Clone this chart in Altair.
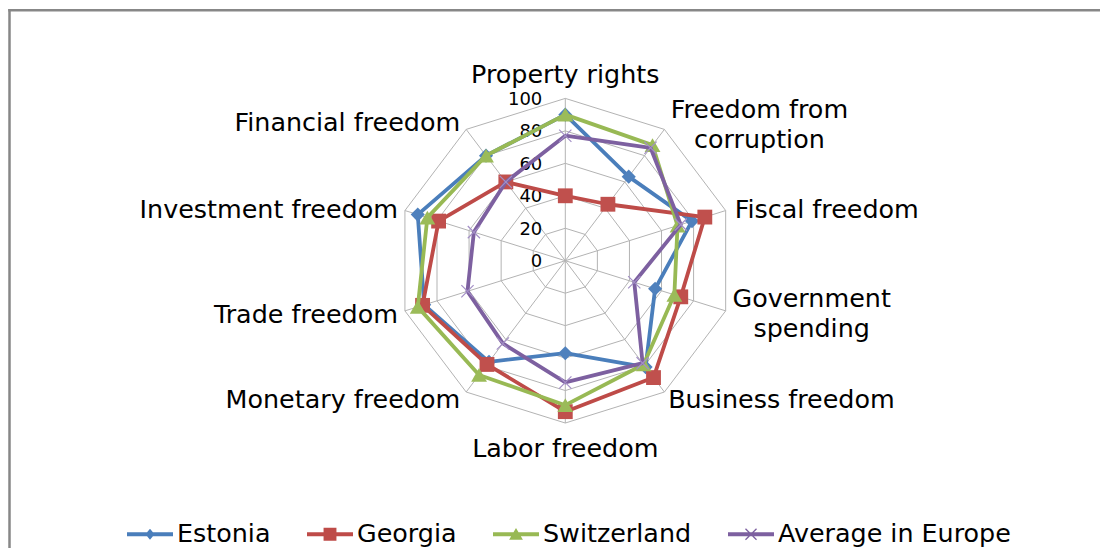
import altair as alt
import pandas as pd

# ---------------- data ----------------
categories = ["Property rights", "Freedom from corruption", "Fiscal freedom",
              "Government spending", "Business freedom", "Labor freedom",
              "Monetary freedom", "Trade freedom", "Investment freedom",
              "Financial freedom"]
category_labels = ["Property rights", "Freedom from\ncorruption", "Fiscal freedom",
                   "Government\nspending", "Business freedom", "Labor freedom",
                   "Monetary freedom", "Trade freedom", "Investment freedom",
                   "Financial freedom"]
estonia = [90, 64, 79, 56, 81, 57, 77, 88, 92, 80]
georgia = [40, 43, 87, 72, 89, 93, 79, 89, 79, 60]
switzerland = [90, 88, 70, 68, 79, 89, 87, 92, 86, 80]
europe = [77, 86, 72, 43, 78, 75, 63, 61, 57, 60]
series_names = ["Estonia", "Georgia", "Switzerland", "Average in Europe"]
tick_values = [0, 20, 40, 60, 80, 100]
ring_values = [20, 40, 60, 80, 100]

# ---------------- styles ----------------
line_colors = ["#4A7EBB", "#BE4B48", "#98B954", "#7D60A0"]
marker_colors = ["#4F81BD", "#C0504D", "#9BBB59", "#A38FC6"]
FONT = "DejaVu Sans"
W, H = 1092, 540
XDOM = [-330.5, 317.1]
YDOM = [-177.0, 155.7]
N = len(categories)

rows = []
for name, vals in zip(series_names, [estonia, georgia, switzerland, europe]):
    for i, v in enumerate(vals):
        rows.append({"series": name, "idx": i, "category": categories[i], "value": v})
df = pd.DataFrame(rows)

grid_df = pd.DataFrame([{"level": lv, "idx": i, "value": lv}
                        for lv in ring_values for i in range(N)])
spoke_df = pd.DataFrame([{"idx": i, "value": max(ring_values)} for i in range(N)])
tick_df = pd.DataFrame({"value": tick_values, "idx": [0] * len(tick_values)})
label_df = pd.DataFrame({"idx": list(range(N)), "label": category_labels,
                         "value": [max(ring_values)] * N})

xs = alt.Scale(domain=XDOM, nice=False, zero=False)
ys = alt.Scale(domain=YDOM, nice=False, zero=False)
calc = dict(x="datum.value*sin(2*PI*datum.idx/%d)" % N,
            y="datum.value*cos(2*PI*datum.idx/%d)" % N,
            x0="0", y0="0")


def X(f="x"):
    return alt.X(f + ":Q", scale=xs, axis=None)


def Y(f="y"):
    return alt.Y(f + ":Q", scale=ys, axis=None)


layers = []

# frame (left and top edges)
layers.append(alt.Chart(pd.DataFrame({"a": [0]})).mark_rule(color="#878787", strokeWidth=2.5)
              .encode(x=alt.value(1.5), y=alt.value(1.0), y2=alt.value(H)))
layers.append(alt.Chart(pd.DataFrame({"a": [0]})).mark_rule(color="#878787", strokeWidth=2.5, strokeCap="butt")
              .encode(x=alt.value(0.3), x2=alt.value(W), y=alt.value(2.3)))

# grid rings
layers.append(alt.Chart(grid_df).transform_calculate(**calc)
              .mark_line(interpolate="linear-closed", color="#B3B3B3", strokeWidth=1)
              .encode(x=X(), y=Y(), detail="level:N", order="idx:Q"))
# spokes
layers.append(alt.Chart(spoke_df).transform_calculate(**calc)
              .mark_rule(color="#B3B3B3", strokeWidth=1)
              .encode(x=X("x0"), y=Y("y0"), x2="x:Q", y2="y:Q"))
# tick labels
layers.append(alt.Chart(tick_df).transform_calculate(**calc)
              .mark_text(align="right", baseline="middle", dx=-23, dy=1.5,
                         font=FONT, fontSize=18, color="#000000")
              .encode(x=X(), y=Y(), text="value:Q"))

# category labels
label_style = [
    dict(align="center", dx=0, dy=-23),
    dict(align="center", dx=95, dy=-19),
    dict(align="left", dx=9, dy=-1),
    dict(align="center", dx=86, dy=-11.5),
    dict(align="center", dx=117, dy=8),
    dict(align="center", dx=0, dy=26),
    dict(align="right", dx=-6, dy=8),
    dict(align="right", dx=-7, dy=4),
    dict(align="right", dx=-7, dy=-0.5),
    dict(align="right", dx=-6, dy=-6),
]
for i, st in enumerate(label_style):
    layers.append(alt.Chart(label_df).transform_filter("datum.idx == %d" % i)
                  .transform_calculate(**calc)
                  .mark_text(baseline="middle", font=FONT, fontSize=25.4, color="#000000",
                             lineBreak="\n", lineHeight=30, **st)
                  .encode(x=X(), y=Y(), text="label:N"))

# series
marker_shape = ["diamond", "square", "triangle-up", "M-1,-1L1,1M-1,1L1,-1"]
marker_size = [200, 220, 250, 150]
for k, name in enumerate(series_names):
    base = alt.Chart(df).transform_filter(alt.datum.series == name).transform_calculate(**calc)
    layers.append(base.mark_line(interpolate="linear-closed", color=line_colors[k],
                                 strokeWidth=3.8, strokeJoin="round")
                  .encode(x=X(), y=Y(), order="idx:Q"))
    if k < 3:
        layers.append(base.mark_point(shape=marker_shape[k], filled=True, size=marker_size[k],
                                      color=marker_colors[k], opacity=1)
                      .encode(x=X(), y=Y()))
    else:
        layers.append(base.mark_point(shape=marker_shape[k], filled=False, size=marker_size[k],
                                      color=marker_colors[k], strokeWidth=1.2, opacity=1)
                      .encode(x=X(), y=Y()))

# legend (custom symbols: line with marker)
LINE = "M-1,-0.085L1,-0.085L1,0.085L-1,0.085Z"
legend_paths = [
    LINE + " M0,-0.24L0.2,0L0,0.24L-0.2,0Z",
    LINE + " M-0.28,-0.28L0.28,-0.28L0.28,0.28L-0.28,0.28Z",
    LINE + " M0,-0.27L0.3,0.24L-0.3,0.24Z",
    LINE + " M-0.26,-0.22L-0.22,-0.26L0.26,0.22L0.22,0.26Z M0.22,-0.26L0.26,-0.22L-0.22,0.26L-0.26,0.22Z",
]
leg = alt.Legend(title=None, orient="none", legendX=119, legendY=503, direction="horizontal",
                 columns=4, symbolSize=2116, symbolStrokeWidth=0, symbolOpacity=1,
                 labelFont=FONT, labelFontSize=25.4, labelColor="#000000", labelOffset=4,
                 columnPadding=36, labelLimit=400)
layers.append(alt.Chart(df).mark_point(filled=True, opacity=0)
              .encode(x=X("x0"), y=Y("y0"),
                      color=alt.Color("series:N", scale=alt.Scale(domain=series_names, range=line_colors), legend=leg),
                      shape=alt.Shape("series:N", scale=alt.Scale(domain=series_names, range=legend_paths), legend=leg))
              .transform_calculate(x0="0", y0="0"))

chart = (alt.layer(*layers)
         .properties(width=W, height=H, padding=0, autosize=alt.AutoSizeParams(type="none"),
                     background="#FFFFFF")
         .configure_view(stroke=None))

chart.save("out.html", embed_options={"renderer": "svg", "actions": False})
